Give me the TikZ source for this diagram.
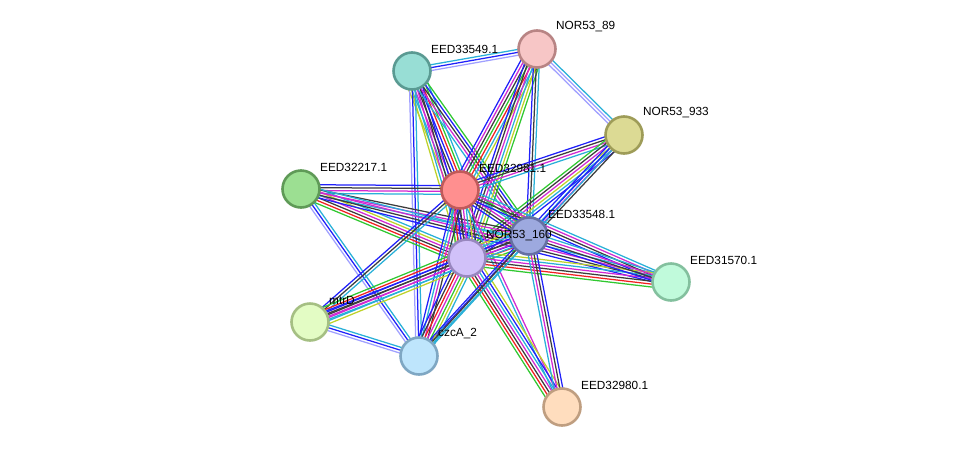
\documentclass[tikz,border=0pt]{standalone}
\usepackage{fontspec}
\setmainfont{Liberation Sans}
\usetikzlibrary{calc,backgrounds}

% evidence channel colours
\definecolor{cn}{RGB}{48,200,48}
\definecolor{cf}{RGB}{240,32,32}
\definecolor{cc}{RGB}{32,32,250}
\definecolor{cx}{RGB}{60,60,60}
\definecolor{ce}{RGB}{210,40,210}
\definecolor{cd}{RGB}{40,176,216}
\definecolor{ct}{RGB}{190,210,40}
\definecolor{ch}{RGB}{160,160,255}

% bundle of parallel lines between two proteins
\newcommand{\bundle}[3]{%
  \foreach \c [count=\n] in {#3} {\xdef\ncol{\n}}%
  \foreach \c [count=\i] in {#3} {%
    \pgfmathsetmacro{\off}{(\i-(\ncol+1)/2)*2.9}%
    \draw[\c,line width=1.25pt] ($(#1)!\off pt!90:(#2)$) -- ($(#2)!\off pt!-90:(#1)$);
  }%
}

\begin{document}
\begin{tikzpicture}[x=1pt,y=-1pt]
\tikzstyle{prot}=[circle,minimum size=37pt,inner sep=0pt,line width=2.6pt]
\tikzstyle{lbl}=[anchor=west,inner sep=1pt,font=\fontsize{11.8}{14}\selectfont]
\useasboundingbox (0,0) rectangle (976,453);

\node[prot,fill={rgb,255:red,152;green,222;blue,213},draw={rgb,255:red,90;green,154;blue,146}] (e33549) at (412,71) {};
\node[prot,fill={rgb,255:red,247;green,198;blue,198},draw={rgb,255:red,184;green,132;blue,132}] (n89) at (537,49) {};
\node[prot,fill={rgb,255:red,220;green,218;blue,148},draw={rgb,255:red,158;green,156;blue,88}] (n933) at (624,135) {};
\node[prot,fill={rgb,255:red,156;green,223;blue,146},draw={rgb,255:red,95;green,154;blue,87}] (e32217) at (301,189) {};
\node[prot,fill={rgb,255:red,255;green,143;blue,143},draw={rgb,255:red,192;green,90;blue,90}] (e32981) at (460,190) {};
\node[prot,fill={rgb,255:red,157;green,169;blue,223},draw={rgb,255:red,102;green,112;blue,163}] (e33548) at (529,236) {};
\node[prot,fill={rgb,255:red,209;green,193;blue,249},draw={rgb,255:red,152;green,135;blue,191}] (n160) at (467,258) {};
\node[prot,fill={rgb,255:red,192;green,250;blue,219},draw={rgb,255:red,131;green,192;blue,158}] (e31570) at (671,282) {};
\node[prot,fill={rgb,255:red,227;green,252;blue,196},draw={rgb,255:red,165;green,191;blue,131}] (mtrd) at (310,322) {};
\node[prot,fill={rgb,255:red,190;green,229;blue,252},draw={rgb,255:red,127;green,167;blue,195}] (czca) at (419,356) {};
\node[prot,fill={rgb,255:red,255;green,221;blue,190},draw={rgb,255:red,191;green,158;blue,128}] (e32980) at (562,407) {};

\node[lbl] (e33549-l) at ($(e33549)+(18,-22)$) {EED33549.1};
\node[lbl] (n89-l) at ($(n89)+(18,-22)$) {NOR53\_89};
\node[lbl] (n933-l) at ($(n933)+(18,-22)$) {NOR53\_933};
\node[lbl] (e32217-l) at ($(e32217)+(18,-22)$) {EED32217.1};
\node[lbl] (e32981-l) at ($(e32981)+(18,-22)$) {EED32981.1};
\node[lbl] (e33548-l) at ($(e33548)+(18,-22)$) {EED33548.1};
\node[lbl] (n160-l) at ($(n160)+(18,-22)$) {NOR53\_160};
\node[lbl] (e31570-l) at ($(e31570)+(18,-22)$) {EED31570.1};
\node[lbl] (mtrd-l) at ($(mtrd)+(18,-22)$) {mtrD};
\node[lbl] (czca-l) at ($(czca)+(18,-22)$) {czcA\_2};
\node[lbl] (e32980-l) at ($(e32980)+(18,-22)$) {EED32980.1};

\begin{scope}[on background layer]
\fill[white] (0,0) rectangle (976,453);
\bundle{e33549}{n89}{ch,cc,cd}
\bundle{n89}{n933}{ch,ch,cd}
\bundle{e33549}{e32981}{ct,cd,ce,cx,cc,cf,cn,cd}
\bundle{e33549}{n160}{ct,cd,ce,cx,cc}
\bundle{e33549}{e33548}{cd,ce,cx,cc,cn}
\bundle{e33549}{czca}{ch,cc,cd}
\bundle{n89}{e32981}{cc,ce,cx,cn,cf,cd,ct}
\bundle{n89}{n160}{cc,cx,ce,cd,ct,cn}
\bundle{n89}{e33548}{cc,cx,cd}
\bundle{n933}{e32981}{cc,cx,ce,cd}
\bundle{n933}{n160}{cn,cx,ce,ct,cd,cc}
\bundle{n933}{e33548}{cc,cd,ce,cx}
\bundle{n933}{czca}{cc,cd}
\bundle{e32217}{e32981}{cd,ce,cx,cc}
\bundle{e32217}{n160}{cn,cf,cx,ce,ct,cd}
\bundle{e32217}{e33548}{cd,ce,cx}
\bundle{e32217}{e31570}{cc,cx,ce,cd}
\bundle{e32217}{czca}{ch,cc,cd}
\bundle{e32981}{n160}{cn,cf,cc,cx,ce,cd,ct,cx}
\bundle{e32981}{e33548}{cc,cx,ce,cd,cn}
\bundle{e32981}{e31570}{cc,cx,ce,cd}
\bundle{e32981}{e32980}{cd,ce}
\bundle{e32981}{mtrd}{cc,cx,cd}
\bundle{e32981}{czca}{cc,cd,ce,cx}
\bundle{n160}{e33548}{cn,cf,cc,cx,ce,cd,ct}
\bundle{n160}{e31570}{cn,cf,cx,ce,cd,ct}
\bundle{n160}{e32980}{cn,cf,cx,ce,cd,cc,ct}
\bundle{n160}{mtrd}{cn,cf,cc,cx,ce,cd,ct}
\bundle{n160}{czca}{cc,cx,cf,ce,cn,ct,cd}
\bundle{e33548}{e31570}{cc,cx,ce,cd}
\bundle{e33548}{e32980}{cd,ce,cx,cc}
\bundle{e33548}{mtrd}{cc,cx,ce,cd}
\bundle{e33548}{czca}{cc,cx,cd}
\bundle{mtrd}{czca}{ch,cc,cd}
\end{scope}
\end{tikzpicture}
\end{document}
